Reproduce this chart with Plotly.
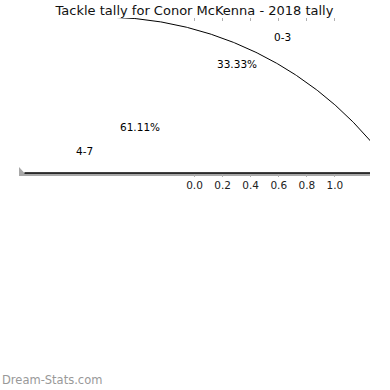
import numpy as np
import plotly.graph_objects as go

# ---- data ----
categories = ["0-3", "4-7"]
shares = [33.33, 61.11]          # percent of tackles (sum < 100 -> gap left un-normalised)
tick_vals = [0.0, 0.2, 0.4, 0.6, 0.8, 1.0]
tick_text = ["0.0", "0.2", "0.4", "0.6", "0.8", "1.0"]
title_text = "Tackle tally for Conor McKenna - 2018 tally"
watermark = "Dream-Stats.com"

# ---- geometry / style ----
W = H = 390
L, R, T, B = 19, 20, 18, 213
LIM = 1.25
FONT = "DejaVu Sans"
label_dist, pct_dist = 1.1, 0.6

fig = go.Figure()

# wedge angles (matplotlib style: start 0 deg, counter-clockwise, fractions not normalised)
fracs = np.array(shares) / 100.0
starts = np.concatenate([[0.0], np.cumsum(fracs)[:-1]]) * 360.0
ends = np.cumsum(fracs) * 360.0
mids = np.radians((starts + ends) / 2)

# broken, oversized outline of the first wedge (clipped by plot area)
arc_cx, arc_cy, arc_rx, arc_ry = -0.655, -4.32, 2.514, 5.585
arc_end = 89.0
th = np.radians(np.linspace(starts[0], min(ends[0], arc_end), 400))
fig.add_trace(go.Scatter(
    x=arc_cx + arc_rx * np.cos(th), y=arc_cy + arc_ry * np.sin(th),
    mode="lines", line=dict(color="black", width=1), hoverinfo="skip", showlegend=False))

# labels and percentages
for cat, s, m in zip(categories, shares, mids):
    cx, cy = np.cos(m), np.sin(m)
    fig.add_annotation(x=label_dist * cx, y=label_dist * cy, text=cat, showarrow=False,
                       xanchor="left" if cx > 0 else "right", yanchor="middle",
                       font=dict(family=FONT, size=10.5, color="black"))
    fig.add_annotation(x=pct_dist * cx, y=pct_dist * cy, text=f"{s:.2f}%", showarrow=False,
                       xanchor="center", yanchor="middle",
                       font=dict(family=FONT, size=10.5, color="black"))

# gray clipped wedge remnant at the bottom
y_edge = -1.187
fig.add_shape(type="path", xref="x", yref="y",
              path=f"M {-LIM} {-1.092} L {-1.211} {y_edge} L {LIM} {y_edge} L {LIM} {-1.235} L {-LIM} {-1.235} Z",
              fillcolor="#a8a8a8", line=dict(width=0), layer="below")
fig.add_shape(type="line", xref="x", yref="y", x0=-1.211, x1=LIM, y0=y_edge, y1=y_edge,
              line=dict(color="black", width=1.5))

fig.update_xaxes(range=[-LIM, LIM], tickvals=tick_vals, ticktext=tick_text,
                 ticks="inside", ticklen=3, tickwidth=1, tickcolor="#b0b0b0",
                 mirror="ticks", showline=False, showgrid=False, zeroline=False,
                 tickfont=dict(family=FONT, size=10.5, color="#222"))
fig.update_yaxes(range=[-LIM, LIM], showticklabels=False, showgrid=False,
                 zeroline=False, showline=False, ticks="")

fig.update_layout(
    width=W, height=H, margin=dict(l=L, r=R, t=T, b=B),
    plot_bgcolor="white", paper_bgcolor="white", showlegend=False,
    title=dict(text=title_text, x=0.5, xref="paper", xanchor="center",
               y=1 - 10 / H, yref="container", yanchor="middle",
               font=dict(family=FONT, size=13, color="#111")),
)
fig.add_annotation(xref="paper", yref="paper", x=-L / (W - L - R), xanchor="left",
                   y=-(380 - (H - B)) / (H - T - B), yanchor="middle",
                   text=watermark, showarrow=False,
                   font=dict(family=FONT, size=11.5, color="#999"))

fig.write_html("out.html", post_script="document.body.style.margin='0';",
               config={"displayModeBar": False})
